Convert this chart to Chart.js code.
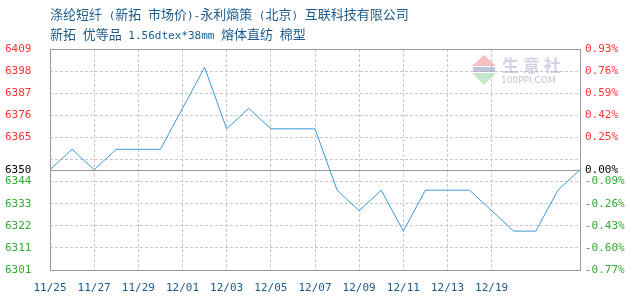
<!DOCTYPE html>
<html>
<head>
<meta charset="utf-8">
<script src="https://cdn.jsdelivr.net/npm/chart.js@4"></script>
<style>
  html, body { margin: 0; padding: 0; background: #fff; }
  #wrap { position: relative; width: 630px; height: 300px; }
  #chart { position: absolute; left: 0; top: 0; }
  .title { position: absolute; left: 50px; color: #1b5b8c; font: 13px "Noto Sans CJK SC", sans-serif; white-space: pre; line-height: 16px; }
  .title .lat { font: 11px "DejaVu Sans Mono", monospace; }
</style>
</head>
<body>
<div id="wrap">
  <canvas id="chart" width="630" height="300"></canvas>
  <div class="title" style="top:6px">涤纶短纤<span class="lat"> (</span>新拓<span class="lat"> </span>市场价<span class="lat">)-</span>永利熵策<span class="lat"> (</span>北京<span class="lat">) </span>互联科技有限公司</div>
  <div class="title" style="top:26px">新拓<span class="lat"> </span>优等品<span class="lat"> 1.56dtex*38mm </span>熔体直纺<span class="lat"> </span>棉型</div>
</div>
<script>
// dates on the x axis (only every other one is shown)
const dates = ['11/25', '11/26', '11/27', '11/28', '11/29', '11/30', '12/01', '12/02', '12/03',
    '12/04', '12/05', '12/06', '12/07', '12/08', '12/09', '12/10', '12/11', '12/12', '12/13',
    '12/16', '12/19', '12/20', '12/21', '12/22', '12/23'];

// price series
const prices = [6350, 6360, 6350, 6360, 6360, 6360, 6380, 6400, 6370, 6380, 6370, 6370, 6370,
    6340, 6330, 6340, 6320, 6340, 6340, 6340, 6330, 6320, 6320, 6340, 6350];

const basePrice = 6350;
const priceMin = 6301;
const priceMax = 6409;

// y ticks, bottom to top
const priceTicks = [6301, 6311.8, 6322.6, 6333.4, 6344.2, 6350, 6355, 6365.8, 6376.6, 6387.4, 6398.2, 6409];
const leftLabels = ['6301', '6311', '6322', '6333', '6344', '6350', '', '6365', '6376', '6387', '6398', '6409'];
const rightLabels = ['-0.77%', '-0.60%', '-0.43%', '-0.26%', '-0.09%', '0.00%', '', '0.25%', '0.42%', '0.59%', '0.76%', '0.93%'];

const UP = '#ff3333', DOWN = '#33aa33', FLAT = '#000000';
const tickColor = ctx => {
    const v = ctx.tick.value;
    return v > basePrice ? UP : (v < basePrice ? DOWN : FLAT);
};
const setTicks = scale => { scale.ticks = priceTicks.map(v => ({ value: v })); };

const framePlugin = {
    id: 'frame',
    beforeDatasetsDraw(chart) {
        const { ctx, chartArea: a, scales } = chart;
        ctx.save();
        ctx.strokeStyle = '#999';
        ctx.lineWidth = 1;
        const y0 = Math.round(scales.y.getPixelForValue(basePrice)) + 0.5;
        ctx.beginPath();
        ctx.moveTo(a.left, y0);
        ctx.lineTo(a.right, y0);
        ctx.stroke();
        ctx.strokeRect(Math.round(a.left) + 0.5, Math.round(a.top) + 0.5,
            Math.round(a.right - a.left), Math.round(a.bottom - a.top));

        // watermark
        ctx.fillStyle = 'rgba(240,150,150,0.6)';
        ctx.beginPath(); ctx.moveTo(484, 55); ctx.lineTo(496, 66); ctx.lineTo(472, 66); ctx.fill();
        ctx.fillStyle = 'rgba(140,210,150,0.5)';
        ctx.beginPath(); ctx.moveTo(472, 73); ctx.lineTo(496, 73); ctx.lineTo(484, 85); ctx.fill();
        ctx.fillStyle = 'rgba(150,160,190,0.6)';
        ctx.fillRect(473, 67, 22, 5);
        ctx.fillStyle = 'rgba(170,175,210,0.55)';
        ctx.font = 'bold 17px "Noto Sans CJK SC"';
        ctx.textBaseline = 'middle';
        ctx.fillText('生 意 社', 502, 66);
        ctx.font = '9px "DejaVu Sans"';
        ctx.fillStyle = 'rgba(170,170,180,0.7)';
        ctx.fillText('100PPI.COM', 501, 81);
        ctx.restore();
    }
};

new Chart(document.getElementById('chart'), {
    type: 'line',
    data: {
        labels: dates,
        datasets: [{
            data: prices,
            borderColor: '#3a9ad9',
            borderWidth: 1,
            pointRadius: 0,
            tension: 0,
            fill: false
        }]
    },
    options: {
        responsive: false,
        animation: false,
        devicePixelRatio: 1,
        layout: { padding: { left: 5, top: 49, right: 0, bottom: 0 } },
        plugins: { legend: { display: false }, tooltip: { enabled: false } },
        scales: {
            x: {
                offset: false,
                afterFit: s => { s.height = 30; },
                grid: {
                    drawTicks: false,
                    color: ctx => (ctx.index > 0 && ctx.index <= 20 && ctx.index % 2 === 0) ? '#c8c8c8' : 'transparent'
                },
                border: { display: false, dash: [3, 2] },
                ticks: {
                    autoSkip: false,
                    maxRotation: 0,
                    padding: 12,
                    color: '#1b5b8c',
                    font: { family: 'DejaVu Sans Mono', size: 11 },
                    callback: (v, i) => (i % 2 === 0 && i <= 20) ? dates[i] : ''
                }
            },
            y: {
                position: 'left',
                min: priceMin,
                max: priceMax,
                afterBuildTicks: setTicks,
                afterFit: s => { s.width = 45; },
                grid: {
                    drawTicks: false,
                    color: ctx => ctx.tick && ctx.tick.value === basePrice ? 'transparent' : '#c8c8c8'
                },
                border: { display: false, dash: [3, 2] },
                ticks: {
                    autoSkip: false,
                    crossAlign: 'far',
                    padding: 0,
                    color: tickColor,
                    font: { family: 'DejaVu Sans Mono', size: 11 },
                    callback: (v, i) => leftLabels[i]
                }
            },
            y1: {
                position: 'right',
                min: priceMin,
                max: priceMax,
                afterBuildTicks: setTicks,
                afterFit: s => { s.width = 50; },
                grid: { drawOnChartArea: false, drawTicks: false },
                border: { display: false },
                ticks: {
                    autoSkip: false,
                    padding: 5,
                    color: tickColor,
                    font: { family: 'DejaVu Sans Mono', size: 11 },
                    callback: (v, i) => rightLabels[i]
                }
            }
        }
    },
    plugins: [framePlugin]
});
</script>
</body>
</html>
